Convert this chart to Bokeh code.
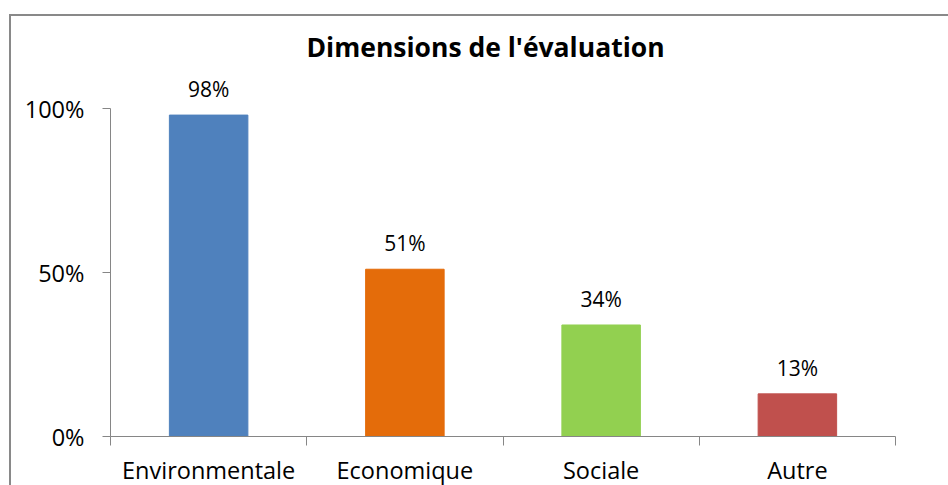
from bokeh.plotting import figure
from bokeh.models import FixedTicker, NumeralTickFormatter, ColumnDataSource, Range1d
from bokeh.embed import file_html
from bokeh.resources import INLINE
from bokeh.core.properties import value

chart_title = "Dimensions de l'évaluation"
categories = ["Environmentale", "Economique", "Sociale", "Autre"]
shares = [0.98, 0.51, 0.34, 0.13]
colors = ["#4F81BD", "#E46C0A", "#92D050", "#C0504D"]
y_ticks = [0, 0.5, 1.0]

positions = [i + 0.5 for i in range(len(categories))]
bounds = list(range(len(categories) + 1))
labels = [f"{round(v * 100)}%" for v in shares]
src = ColumnDataSource(dict(x=positions, top=shares, color=colors, label=labels))

FONT = "Open Sans"
AXIS_GRAY = "#868686"

p = figure(frame_width=785, frame_height=367, output_backend="svg",
           toolbar_location=None,
           x_range=Range1d(0, len(categories)), y_range=Range1d(0, 1.119),
           min_border_left=99, min_border_right=53, min_border_top=53,
           min_border_bottom=48)
p.margin = (14, 0, 0, 9)
p.styles = {"border-left": "2px solid #898989", "border-top": "2px solid #898989"}

p.title.text = chart_title
p.title.align = "left"
p.title.offset = 196
p.title.text_font = FONT
p.title.text_font_style = "bold"
p.title.text_font_size = "26.5px"
p.title.text_color = "#000000"
p.title.standoff = 9

p.vbar(x="x", top="top", bottom=0, width=0.4, color="color", source=src)
p.text(x="x", y="top", text="label", source=src, text_align="center",
       text_baseline="alphabetic", y_offset=-26, text_font=value(FONT),
       text_font_size="21px", text_color="#000000")

p.xgrid.visible = False
p.ygrid.visible = False
p.outline_line_color = None

xa = p.xaxis[0]
xa.ticker = FixedTicker(ticks=positions, minor_ticks=bounds)
xa.major_label_overrides = {pos: cat for pos, cat in zip(positions, categories)}
xa.major_tick_out = 0
xa.major_tick_in = 0
xa.minor_tick_out = 9
xa.minor_tick_in = 0
xa.axis_line_color = AXIS_GRAY
xa.minor_tick_line_color = AXIS_GRAY
xa.major_label_standoff = 8
xa.major_label_text_font = FONT
xa.major_label_text_font_size = "23.5px"
xa.major_label_text_color = "#000000"

ya = p.yaxis[0]
ya.ticker = FixedTicker(ticks=y_ticks, minor_ticks=[])
ya.formatter = NumeralTickFormatter(format="0%")
ya.bounds = (0, 1)
ya.major_tick_out = 8
ya.major_tick_in = 0
ya.axis_line_color = AXIS_GRAY
ya.major_tick_line_color = AXIS_GRAY
ya.major_label_standoff = 18
ya.major_label_text_font = FONT
ya.major_label_text_font_size = "23.5px"
ya.major_label_text_color = "#000000"

html = file_html(p, INLINE)
html = html.replace("<head>", "<head><style>html,body{overflow:hidden}</style>", 1)
open("out.html", "w").write(html)
